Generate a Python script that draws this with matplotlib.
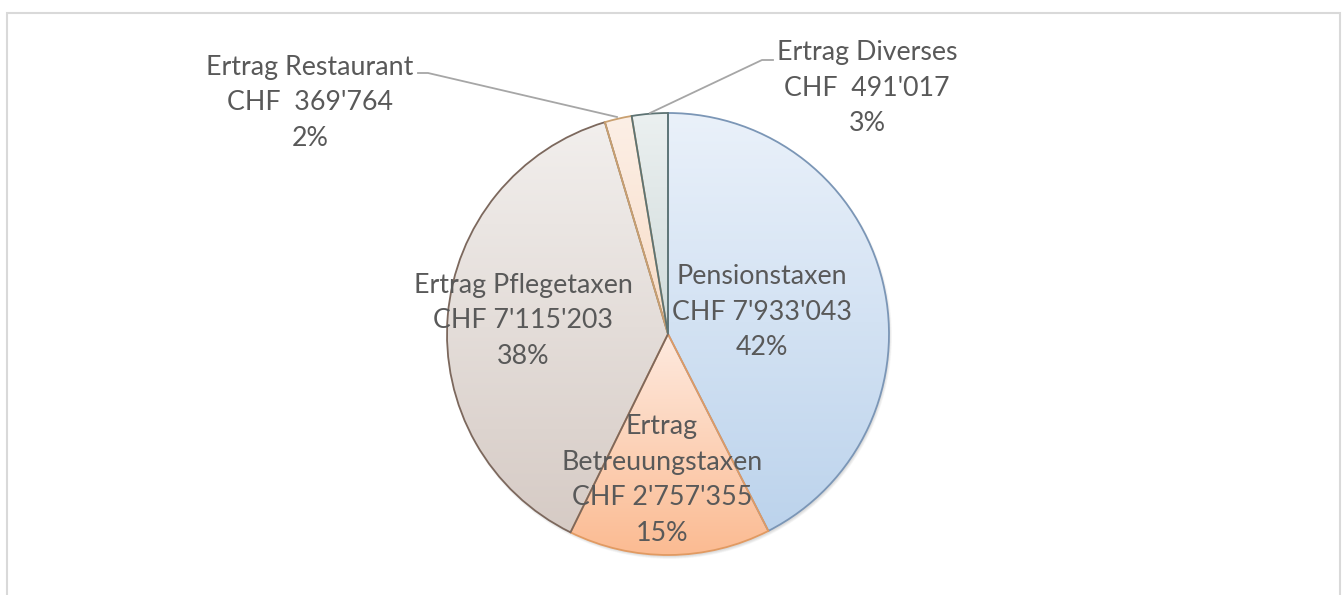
import numpy as np
import matplotlib.pyplot as plt
from matplotlib.colors import LinearSegmentedColormap

# data
labels = ['Pensionstaxen', 'Ertrag\nBetreuungstaxen', 'Ertrag Pflegetaxen',
          'Ertrag Restaurant', 'Ertrag Diverses']
values = [7933043, 2757355, 7115203, 369764, 491017]
chf_text = ["CHF 7'933'043", "CHF 2'757'355", "CHF 7'115'203",
            "CHF  369'764", "CHF  491'017"]

top_colors = ['#eaf1fa', '#feeadf', '#f2efed', '#fcefe6', '#ebf0f0']
bottom_colors = ['#bcd3ec', '#fbbb92', '#d6cbc5', '#f8dcc6', '#d0dbdb']
edge_colors = ['#7b96b6', '#e19a62', '#7c685d', '#c9a070', '#5d7373']

W, H = 1344, 595
fig = plt.figure(figsize=(W / 100, H / 100), dpi=100)
ax = fig.add_axes([0, 0, 1, 1])

# chart frame (no bottom edge visible)
ax.plot([6.5, 6.5, 1340, 1340], [0, H - 13, H - 13, 0], color='#d9d9d9',
        lw=1.5, solid_joinstyle='miter')

cx, cy, r = 668, H - 334, 221

# soft shadow
for i in range(6):
    sh = plt.Circle((cx + 1.5, cy - 2.5), r + 1.5 - i * 0.5, color='black',
                    alpha=0.025, lw=0, zorder=1)
    ax.add_patch(sh)

wedges, _ = ax.pie(values, startangle=90, counterclock=False, radius=r,
                   center=(cx, cy), frame=True,
                   wedgeprops=dict(lw=1.3, zorder=3))
ax.set_xlim(0, W)
ax.set_ylim(0, H)
ax.set_aspect('equal')
ax.axis('off')

for w, tc, bc, ec in zip(wedges, top_colors, bottom_colors, edge_colors):
    w.set_facecolor('none')
    w.set_edgecolor(ec)
    ext = w.get_path().get_extents()
    cmap = LinearSegmentedColormap.from_list('g', [bc, tc])
    grad = np.linspace(0, 1, 256).reshape(-1, 1)
    im = ax.imshow(grad, cmap=cmap, origin='lower', aspect='auto',
                   extent=[ext.x0, ext.x1, ext.y0, ext.y1], zorder=2,
                   interpolation='bilinear')
    im.set_clip_path(w)

font = dict(family='Lato', fontsize=19.3, color='#595959', ha='center',
            va='center', linespacing=1.52, zorder=5)

# data labels
ax.text(762, H - 312, f"{labels[0]}\n{chf_text[0]}\n42%", **font)
ax.text(662, H - 480, f"{labels[1]}\n{chf_text[1]}\n15%", **font)
ax.text(523, H - 321, f"{labels[2]}\n{chf_text[2]}\n38%", **font)
ax.text(310, H - 103, f"{labels[3]}\n{chf_text[3]}\n2%", **font)
ax.text(867, H - 88, f"{labels[4]}\n{chf_text[4]}\n3%", **font)

# leader lines
ax.plot([418, 428, 617], [H - 73, H - 73, H - 117], color='#a6a6a6', lw=1.3, zorder=4)
ax.plot([773, 762, 650], [H - 60, H - 60, H - 113], color='#a6a6a6', lw=1.3, zorder=4)

fig.savefig('out.png', dpi=100, facecolor='white')
